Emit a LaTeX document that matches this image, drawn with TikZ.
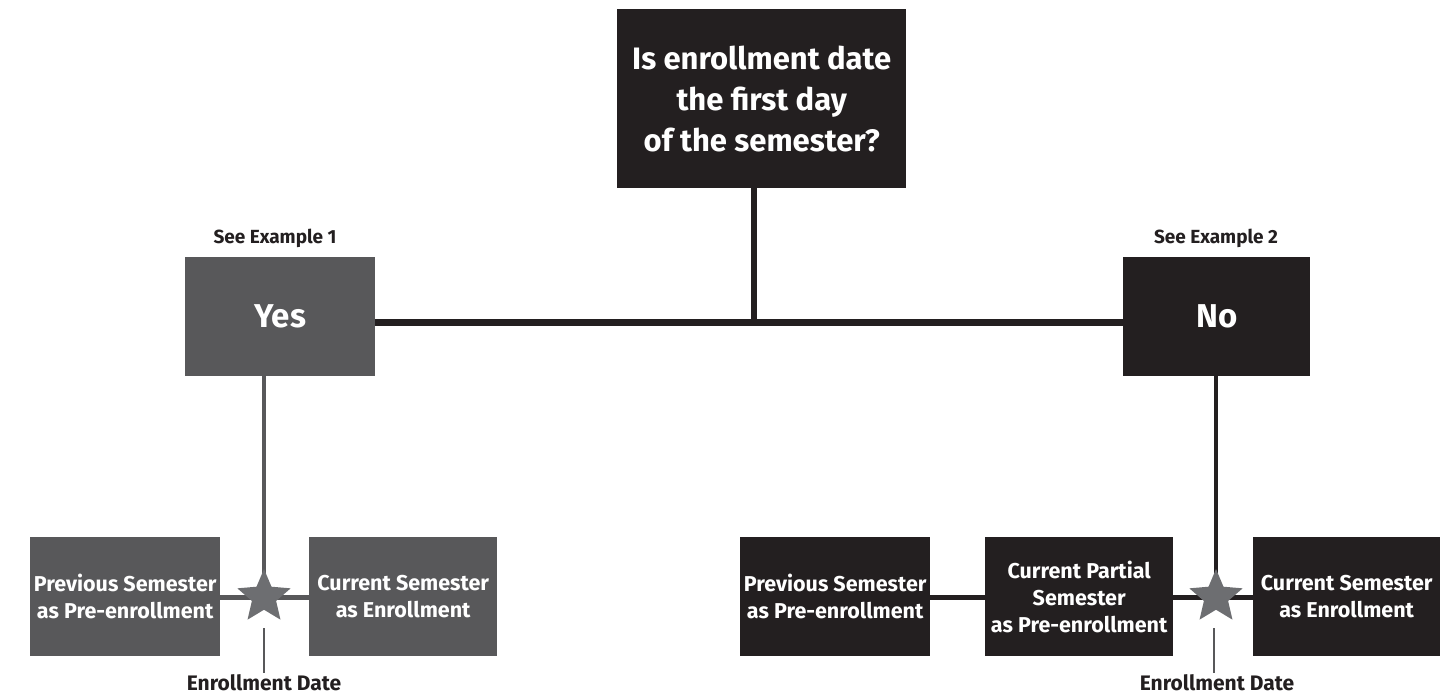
\documentclass[tikz,border=0pt]{standalone}
\usepackage{fontspec}
\setmainfont{Fira Sans}
\usetikzlibrary{shapes.geometric}
\definecolor{boxblack}{HTML}{231F20}
\definecolor{boxgray}{HTML}{58585A}
\definecolor{stargray}{HTML}{6D6E71}
\tikzset{
  blk/.style={fill=boxblack, text=white, font=\bfseries, align=center, inner sep=0pt, anchor=north west},
  gry/.style={fill=boxgray, text=white, font=\bfseries, align=center, inner sep=0pt, anchor=north west},
  small/.style={font=\bfseries\fontsize{21.5}{27}\selectfont},
  lbl/.style={text=boxblack, font=\bfseries\fontsize{19}{22}\selectfont, inner sep=0pt, anchor=base},
  starshape/.style={star, star points=5, star point ratio=2.2, fill=stargray, minimum size=56pt, inner sep=0pt},
  conn/.style={draw=boxblack, line width=5pt},
  tick/.style={draw=boxgray, line width=1.5pt},
}
\begin{document}
\begin{tikzpicture}[x=1pt,y=-1pt]
\useasboundingbox[fill=white] (0,0) rectangle (1454,698);
% top question
\node[blk, minimum width=289pt, minimum height=179pt, font=\bfseries\fontsize{31}{41}\selectfont] (q) at (617,9) {Is enrollment date\\the first day\\of the semester?};
% yes / no
\node[gry, minimum width=190pt, minimum height=119pt, font=\bfseries\fontsize{33}{36}\selectfont] (yes) at (185,257) {Yes};
\node[blk, minimum width=187pt, minimum height=119pt, font=\bfseries\fontsize{33}{36}\selectfont] (no) at (1123,257) {No};
\node[lbl] (ex1) at (275,243) {See Example 1};
\node[lbl] (ex2) at (1216,243) {See Example 2};
% bottom left
\node[gry, small, minimum width=190pt, minimum height=119pt] (lprev) at (30,537) {Previous Semester\\as Pre-enrollment};
\node[gry, small, minimum width=188pt, minimum height=119pt] (lcur) at (309,537) {Current Semester\\as Enrollment};
% bottom right
\node[blk, small, minimum width=190pt, minimum height=119pt] (rprev) at (740,537) {Previous Semester\\as Pre-enrollment};
\node[blk, small, minimum width=188pt, minimum height=119pt] (rpart) at (985,537) {Current Partial\\Semester\\as Pre-enrollment};
\node[blk, small, minimum width=187pt, minimum height=119pt] (rcur) at (1253,537) {Current Semester\\as Enrollment};
% junctions
\coordinate (j) at (754,322);
\coordinate (ls) at (264,597);
\coordinate (rs) at (1216,597);
% connectors
\draw[draw=boxblack, line width=6pt] (q.south -| j) -- (j);
\draw[draw=boxblack, line width=7pt] (yes.east |- j) -- (no.west |- j);
\draw[draw=boxgray, line width=4pt] (yes.south -| ls) -- (ls);
\draw[draw=boxblack, line width=4.5pt] (no.south -| rs) -- (rs);
\draw[draw=boxgray, line width=5pt] (lprev.east |- ls) -- (lcur.west |- ls);
\draw[conn] (rprev.east |- rs) -- (rpart.west |- rs);
\draw[conn] (rpart.east |- rs) -- (rcur.west |- rs);
% stars
\node[starshape] (lstar) at (ls) {};
\node[starshape] (rstar) at (rs) {};
\node[lbl, font=\bfseries\fontsize{21}{24}\selectfont] (led) at (264,690) {Enrollment Date};
\node[lbl, font=\bfseries\fontsize{21}{24}\selectfont] (red) at (1217,690) {Enrollment Date};
\coordinate (lt1) at (264,628);
\coordinate (lt2) at (264,673);
\coordinate (rt1) at (1214,628);
\coordinate (rt2) at (1214,673);
\draw[tick] (lt1) -- (lt2);
\draw[tick] (rt1) -- (rt2);
\end{tikzpicture}
\end{document}
